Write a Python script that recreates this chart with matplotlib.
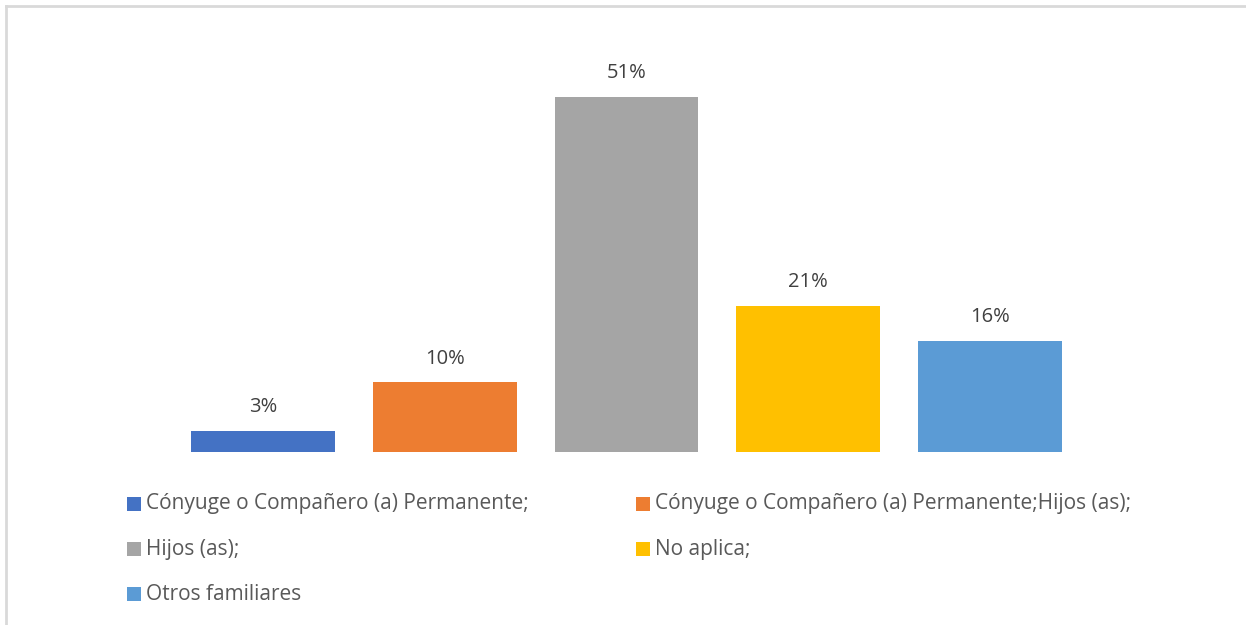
import matplotlib
matplotlib.use("Agg")
import matplotlib.pyplot as plt
from matplotlib.patches import Rectangle
from matplotlib.lines import Line2D

categories = ["Cónyuge o Compañero (a) Permanente;",
              "Cónyuge o Compañero (a) Permanente;Hijos (as);",
              "Hijos (as);",
              "No aplica;",
              "Otros familiares"]
values = [3, 10, 51, 21, 16]
colors = ["#4472C4", "#ED7D31", "#A5A5A5", "#FFC000", "#5B9BD5"]

W, H = 1246, 625
fig = plt.figure(figsize=(W / 100, H / 100), dpi=100)
plt.rcParams['font.family'] = ['Open Sans', 'DejaVu Sans']

# frame (top and left edges visible)
fig.add_artist(Line2D([6 / W, 6 / W], [0, 1 - 6 / H], transform=fig.transFigure,
                      color="#D9D9D9", lw=2))
fig.add_artist(Line2D([6 / W, 1], [1 - 6 / H, 1 - 6 / H], transform=fig.transFigure,
                      color="#D9D9D9", lw=2))

ax_left, ax_right = 172, 1081
base_y = 452
px_per = (452 - 97) / 51
ymax = 60
ax = fig.add_axes([ax_left / W, (H - base_y) / H, (ax_right - ax_left) / W,
                   ymax * px_per / H])
x = list(range(len(values)))
ax.bar(x, values, width=0.79, color=colors)
ax.set_xlim(-0.5, len(values) - 0.5)
ax.set_ylim(0, ymax)
ax.axis("off")
for xi, v in zip(x, values):
    ax.annotate(f"{v}%", (xi, v), xytext=(0, 10), textcoords="offset points",
                ha="center", va="bottom", fontsize=14.5, color="#404040")

# legend
cols = [127, 636]
rows = [504, 549, 594]
sq = 14
for i, (lab, c) in enumerate(zip(categories, colors)):
    cx = cols[i % 2]
    cy = rows[i // 2]
    fig.add_artist(Rectangle((cx / W, (H - cy - sq / 2) / H), sq / W, sq / H,
                             transform=fig.transFigure, color=c, lw=0))
    fig.text((cx + sq + 5) / W, (H - cy) / H, lab, ha="left", va="center",
             fontsize=15, color="#595959")

fig.savefig("out.png", dpi=100)
